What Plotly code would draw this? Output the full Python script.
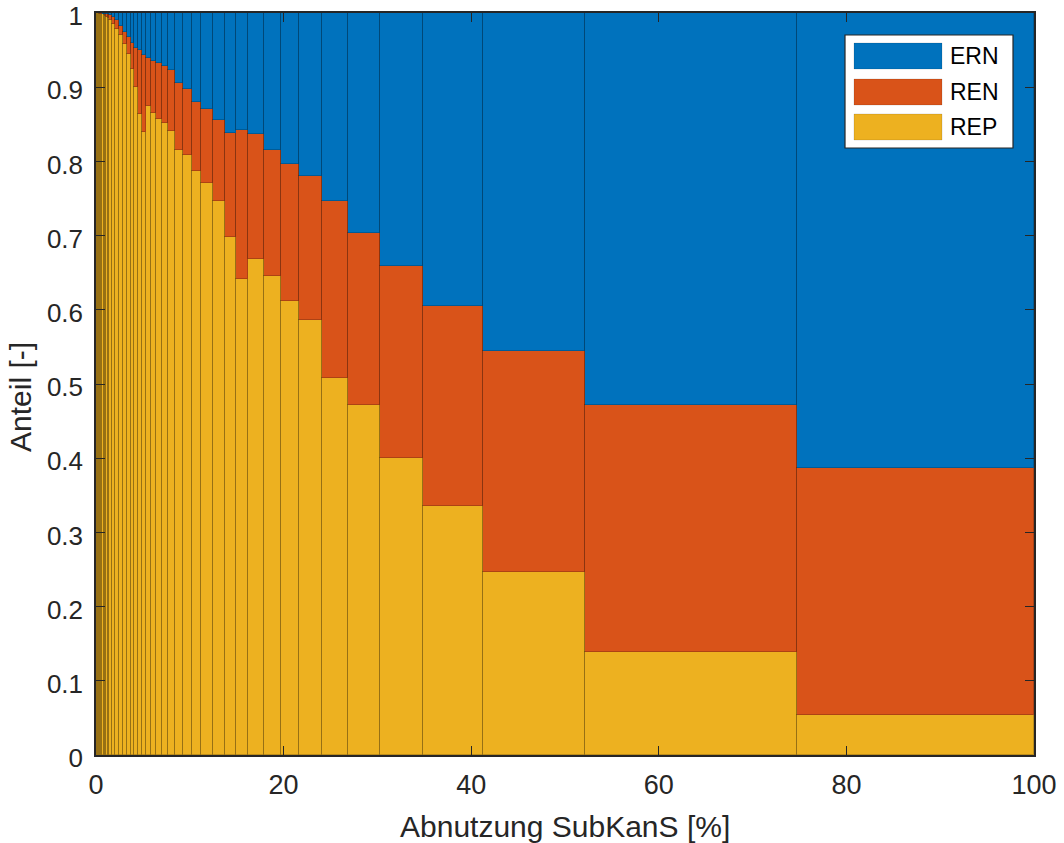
import plotly.graph_objects as go

# Class boundaries of the wear level (Abnutzung SubKanS, in %)
edges = [0, 0.1, 0.2, 0.3, 0.42, 0.55, 0.68, 0.82, 0.96, 1.1, 1.24, 1.39,
         1.67, 2.03, 2.48, 2.91, 3.27, 3.70, 4.08, 4.51, 4.87, 5.33,
         5.86, 6.40, 7.07, 7.64, 8.42, 9.24, 10.27, 11.24, 12.44, 13.75,
         14.93, 16.24, 17.88, 19.69, 21.67, 24.06, 26.90, 30.28, 34.86, 41.26,
         52.13, 74.73, 100]

# Share of each measure per class
rep = [1.000, 1.000, 1.000, 0.999, 0.999, 0.998, 0.998, 0.997, 0.996, 0.995, 0.993,
       0.991, 0.985, 0.978, 0.970, 0.958, 0.945, 0.925, 0.900, 0.864, 0.839,
       0.874, 0.865, 0.857, 0.852, 0.841, 0.816, 0.809, 0.787, 0.771, 0.746,
       0.698, 0.642, 0.668, 0.645, 0.612, 0.586, 0.508, 0.472, 0.400, 0.336,
       0.247, 0.139, 0.054]
ren = [0.000, 0.000, 0.000, 0.001, 0.001, 0.002, 0.001, 0.002, 0.003, 0.004, 0.005,
       0.006, 0.009, 0.012, 0.013, 0.016, 0.022, 0.035, 0.053, 0.086, 0.105,
       0.066, 0.070, 0.075, 0.077, 0.082, 0.090, 0.088, 0.093, 0.099, 0.110,
       0.140, 0.200, 0.169, 0.171, 0.184, 0.195, 0.239, 0.231, 0.259, 0.269,
       0.297, 0.333, 0.333]
ern = [0.000, 0.000, 0.000, 0.000, 0.000, 0.000, 0.001, 0.001, 0.001, 0.001, 0.002,
       0.003, 0.006, 0.010, 0.017, 0.026, 0.033, 0.040, 0.047, 0.050, 0.056,
       0.060, 0.065, 0.068, 0.071, 0.077, 0.094, 0.103, 0.120, 0.130, 0.144,
       0.162, 0.158, 0.163, 0.184, 0.204, 0.219, 0.253, 0.297, 0.341, 0.395,
       0.456, 0.528, 0.613]

x_ticks = [0, 20, 40, 60, 80, 100]
y_ticks = [0, 0.1, 0.2, 0.3, 0.4, 0.5, 0.6, 0.7, 0.8, 0.9, 1]
y_tick_text = ["0", "0.1", "0.2", "0.3", "0.4", "0.5", "0.6", "0.7", "0.8", "0.9", "1"]

series = [("REP", rep, "#EDB120"), ("REN", ren, "#D95319"), ("ERN", ern, "#0072BD")]

centers = [(a + b) / 2 for a, b in zip(edges[:-1], edges[1:])]
widths = [b - a for a, b in zip(edges[:-1], edges[1:])]

fig = go.Figure()
for name, vals, col in series:
    fig.add_trace(go.Bar(
        x=centers, y=vals, width=widths, name=name,
        marker=dict(color=col, line=dict(color="rgba(0,0,0,0.2)", width=1)),
        showlegend=False,
    ))

W, H = 1064, 843
L, R, T, B = 96, 30, 13, 88
pw, ph = W - L - R, H - T - B


def px(xp):
    return (xp - L) / pw


def py(yp):
    return (H - B - yp) / ph


axis_col = "#262626"
font_family = "Liberation Sans, Arial, sans-serif"

fig.update_layout(
    width=W, height=H,
    margin=dict(l=L, r=R, t=T, b=B, autoexpand=False),
    barmode="stack", bargap=0,
    paper_bgcolor="white", plot_bgcolor="white",
    font=dict(family=font_family, color=axis_col, size=26),
    xaxis=dict(range=[0, 100], tickvals=x_ticks, automargin=False,
               ticks="inside", ticklen=9, tickwidth=1.3, tickcolor=axis_col,
               showline=True, linecolor=axis_col, linewidth=1.5, mirror="ticks",
               showgrid=False, zeroline=False, tickfont=dict(size=27),
               ticklabelstandoff=5, ticklabeloverflow="allow"),
    yaxis=dict(range=[0, 1], tickvals=y_ticks, ticktext=y_tick_text, automargin=False,
               ticks="inside", ticklen=9, tickwidth=1.3, tickcolor=axis_col,
               showline=True, linecolor=axis_col, linewidth=1.5, mirror="ticks",
               showgrid=False, zeroline=False, tickfont=dict(size=26),
               ticklabelstandoff=6, ticklabelshift=3, ticklabeloverflow="allow"),
)

# Axis titles
fig.add_annotation(text="Abnutzung SubKanS [%]", xref="paper", yref="paper",
                   x=0.5, y=py(826), xanchor="center", yanchor="middle",
                   showarrow=False, font=dict(size=30, color=axis_col))
fig.add_annotation(text="Anteil [-]", xref="paper", yref="paper",
                   x=px(21), y=py(397), xanchor="center", yanchor="middle",
                   textangle=-90, showarrow=False, font=dict(size=30, color=axis_col))

# Legend box with wide colour swatches
fig.add_shape(type="rect", xref="paper", yref="paper",
              x0=px(845), x1=px(1013), y0=py(148), y1=py(35),
              fillcolor="white", line=dict(color=axis_col, width=1.2))
swatch_rows = [("ERN", "#0072BD", 43, 69), ("REN", "#D95319", 79, 105), ("REP", "#EDB120", 114, 140)]
for label, col, y0, y1 in swatch_rows:
    fig.add_shape(type="rect", xref="paper", yref="paper",
                  x0=px(854), x1=px(942), y0=py(y1), y1=py(y0),
                  fillcolor=col, line=dict(color="rgba(0,0,0,0.12)", width=1))
    fig.add_annotation(text=label, xref="paper", yref="paper",
                       x=px(948), y=py((y0 + y1) / 2), xanchor="left", yanchor="middle",
                       showarrow=False, font=dict(size=23, color="black"))

fig.write_html("out.html")
